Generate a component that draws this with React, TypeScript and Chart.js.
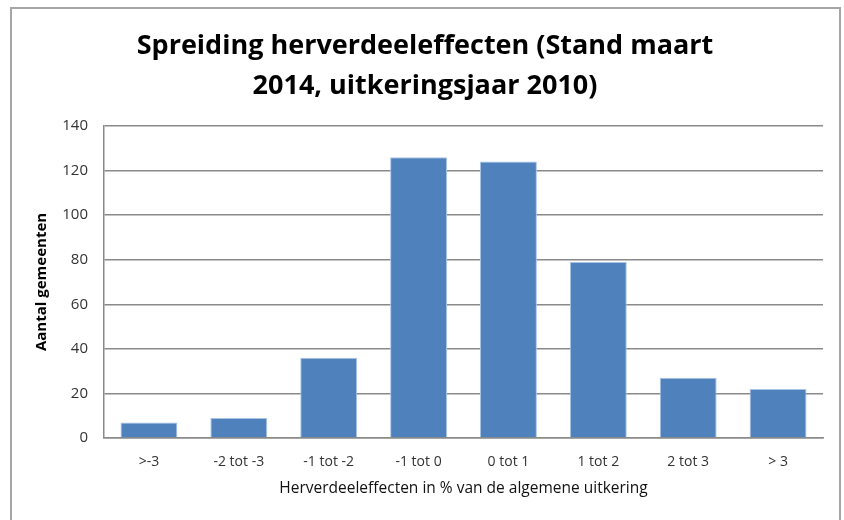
import React, { useEffect, useRef } from "react";
import { Chart, registerables } from "chart.js";

Chart.register(...registerables);

const categories = [">-3", "-2 tot -3", "-1 tot -2", "-1 tot 0", "0 tot 1", "1 tot 2", "2 tot 3", "> 3"];
const values = [7, 9, 36, 126, 124, 79, 27, 22];
const titleLines = ["Spreiding herverdeeleffecten (Stand maart", "2014, uitkeringsjaar 2010)"];
const yTitle = "Aantal gemeenten";
const xTitle = "Herverdeeleffecten in % van de algemene uitkering";

const FONT = "'Open Sans', Lato, sans-serif";

export default function App() {
  const ref = useRef<HTMLCanvasElement | null>(null);
  useEffect(() => {
    if (!ref.current) return;
    const chart = new Chart(ref.current, {
      type: "bar",
      data: {
        labels: categories,
        datasets: [
          {
            data: values,
            backgroundColor: "#4F81BD",
            borderColor: "#A9C3E3",
            borderWidth: 1,
            barPercentage: 0.633,
            categoryPercentage: 1,
          },
        ],
      },
      options: {
        animation: false,
        responsive: false,
        maintainAspectRatio: false,
        layout: { padding: { left: 27, right: 21, top: 0, bottom: 0 } },
        plugins: {
          legend: { display: false },
          tooltip: { enabled: false },
          title: {
            display: true,
            text: titleLines,
            color: "#000",
            font: { family: FONT, size: 27, weight: "bold", lineHeight: 1.48 },
            padding: { top: 26, bottom: 20 },
          },
        },
        scales: {
          x: {
            grid: { display: false, drawTicks: false },
            border: { display: true, color: "#8a8a8a", width: 1.5 },
            ticks: { color: "#333", font: { family: FONT, size: 14 }, padding: 16, maxRotation: 0, autoSkip: false },
            title: {
              display: true,
              text: xTitle,
              color: "#111",
              font: { family: FONT, size: 15.5 },
              padding: { top: 0, bottom: 22 },
            },
            afterFit: (s: any) => {
              s.height = 82;
            },
          },
          y: {
            min: 0,
            max: 140,
            ticks: { stepSize: 20, color: "#333", font: { family: FONT, size: 15 }, padding: 16 },
            grid: { color: "#8a8a8a", lineWidth: 1.5, drawTicks: false },
            border: { display: true, color: "#8a8a8a", width: 1.5 },
            title: {
              display: true,
              text: yTitle,
              color: "#000",
              font: { family: FONT, size: 15, weight: "bold" },
              padding: { top: 6, bottom: 0 },
            },
            afterFit: (s: any) => {
              s.width = 104 - 27;
            },
          },
        },
      },
    });
    return () => chart.destroy();
  }, []);
  return (
    <div style={{ position: "absolute", left: 0, top: 0, width: 844, height: 520, overflow: "hidden", background: "#fff" }}>
      <div
        style={{
          position: "absolute",
          left: 10,
          top: 7,
          width: 831,
          height: 540,
          border: "2px solid #a6a6a6",
          boxSizing: "border-box",
        }}
      />
      <canvas ref={ref} width={844} height={520} style={{ position: "absolute", left: 0, top: 0 }} />
    </div>
  );
}
